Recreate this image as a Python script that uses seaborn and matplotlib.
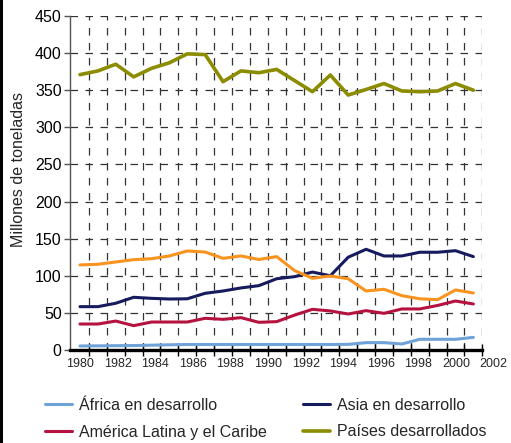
import numpy as np
import pandas as pd
import seaborn as sns
import matplotlib.pyplot as plt
from matplotlib.patches import Rectangle

# values (millions of tonnes), one point per year
years = list(range(1980, 2003))
africa = [5.4, 5.6, 5.8, 6.0, 6.5, 7.0, 7.4, 7.4, 7.4, 7.4, 7.4, 7.4,
          7.4, 7.4, 7.4, 7.6, 9.9, 9.9, 8.1, 14.4, 14.4, 14.4, 17.0]
asia = [58.4, 58.4, 63, 71, 69.6, 68.7, 69, 76.4, 79.5, 83.6, 86.7, 96,
        98.8, 105, 100, 125, 135.7, 126.7, 126.7, 131.7, 131.7, 133.8, 125.8]
latam = [35, 35, 39, 32.8, 37.7, 37.7, 37.7, 42.7, 41.3, 43.6, 37.3, 38.2,
         47, 54.8, 52.6, 48.5, 53, 49.4, 55.3, 55.3, 60, 66, 62]
desarrollados = [371, 376, 385, 368, 379.5, 387, 399, 398, 361.5, 376, 373.6, 378,
                 363, 348, 370.5, 343.5, 351, 359, 349, 348, 349, 359, 350]
transicion = [114.6, 115.5, 118.6, 121.7, 123, 126.7, 133.4, 132, 123.5, 126.7, 122, 125.8,
              107, 96.6, 99.7, 96, 79.5, 81.8, 73.2, 69, 67.8, 80.9, 76.8]

tick_years = list(range(1980, 2003, 2))
y_ticks = list(range(0, 451, 50))

sns.set_style("white")
plt.rcParams["font.family"] = ["Liberation Sans", "DejaVu Sans"]

fig = plt.figure(figsize=(5.11, 4.43), dpi=100)
ax = fig.add_axes([70 / 511, 93 / 443, 412.3 / 511, 334 / 443])

series = [
    ("África en desarrollo", africa, "#6fa2d6", 2.2),
    ("Asia en desarrollo", asia, "#161b5e", 2.2),
    ("América Latina y el Caribe", latam, "#b5123f", 2.2),
    ("Países desarrollados", desarrollados, "#8c8c00", 2.6),
]
handles = {}
for name, vals, col, lw in series:
    sns.lineplot(x=years, y=vals, color=col, lw=lw, ax=ax, zorder=3)
    handles[name] = ax.lines[-1]
sns.lineplot(x=years, y=transicion, color="#f7931e", lw=2.2, ax=ax, zorder=3)

ax.set_xlim(1979.44, 2002.5)
ax.set_ylim(0, 450)
ax.set_yticks(y_ticks)
ax.set_xticks([])
ax.set_xticks(np.arange(1980.5, 2003, 1.0), minor=True)

dash = (0, (6, 6))
ax.yaxis.grid(True, linestyle=dash, color="#333333", lw=0.9)
ax.xaxis.grid(True, which="minor", linestyle=dash, color="#333333", lw=0.9)
ax.set_axisbelow(True)

for s in ["top", "right"]:
    ax.spines[s].set_visible(False)
ax.spines["bottom"].set_linewidth(2.4)
ax.spines["bottom"].set_color("black")
ax.spines["bottom"].set_zorder(4)
ax.spines["left"].set_color("#555555")
ax.spines["left"].set_linewidth(1)

ax.tick_params(axis="y", labelsize=11.5, length=4, width=1, color="#555555",
               pad=2, left=True, labelcolor="black")
ax.tick_params(axis="x", which="minor", direction="inout", length=8, width=1,
               color="black", bottom=True)

# year labels run on a slightly wider spacing than the data points
label_ratio = 18.8 / 17.88
for yr in tick_years:
    pos = 1980 + (yr - 1980) * label_ratio
    ax.annotate(str(yr), xy=(pos, 0), xycoords=("data", "axes fraction"),
                xytext=(0, -5.5), textcoords="offset points",
                ha="center", va="top", fontsize=9, annotation_clip=False)

ax.set_ylabel("Millones de toneladas", fontsize=11.5)
ax.yaxis.set_label_coords(-0.106, 0.54)

order = ["África en desarrollo", "América Latina y el Caribe",
         "Asia en desarrollo", "Países desarrollados"]
fig.legend([handles[n] for n in order], order, ncol=2, loc="upper left",
           bbox_to_anchor=(45 / 511, 1 - 398 / 443), frameon=False,
           fontsize=11.5, handlelength=1.7, handletextpad=0.4,
           columnspacing=2.3, labelspacing=0.72, borderpad=0, borderaxespad=0)

fig.add_artist(Rectangle((0, 0), 3 / 511, 1, transform=fig.transFigure,
                         color="black", lw=0))

fig.savefig("out.png", dpi=100)
